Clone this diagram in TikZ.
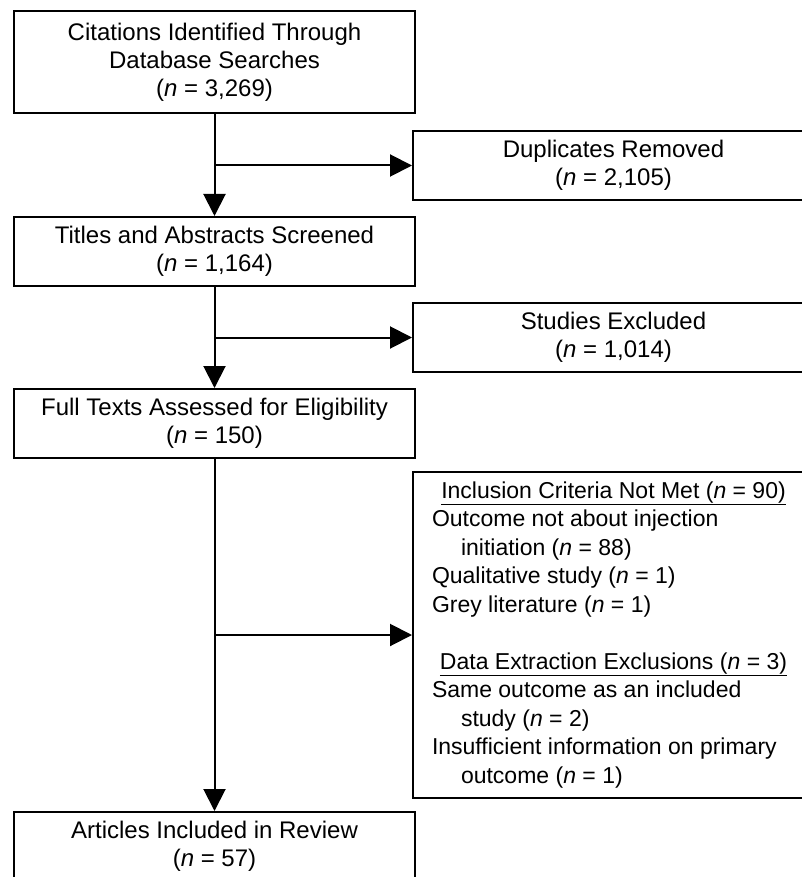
\documentclass[tikz,border=0pt]{standalone}
\usepackage{fontspec}
\setmainfont{Liberation Sans}
\usetikzlibrary{arrows.meta}
\begin{document}
\begin{tikzpicture}[x=1pt,y=-1pt,
  box/.style={draw=black, line width=2pt, minimum width=401pt, inner sep=0pt,
    align=center, font=\fontsize{24}{28}\selectfont},
  flow/.style={draw=black, line width=2pt, -{Triangle[length=22pt,width=22pt]}},
  plain/.style={draw=black, line width=2pt}]
\useasboundingbox (0,0) rectangle (802,877);
\clip (0,0) rectangle (802,877);
\fill[white] (0,0) rectangle (802,877);

\node[box, minimum height=102pt] (cit) at (214.5,62)
  {Citations Identified Through\\Database Searches\\(\textit{n} = 3,269)};
\node[box, minimum height=69pt] (dup) at (613.5,165.5)
  {Duplicates Removed\\(\textit{n} = 2,105)};
\node[box, minimum height=69pt] (tit) at (214.5,251.5)
  {Titles and Abstracts Screened\\(\textit{n} = 1,164)};
\node[box, minimum height=69pt] (exc) at (613.5,337.5)
  {Studies Excluded\\(\textit{n} = 1,014)};
\node[box, minimum height=69pt] (full) at (214.5,423.5)
  {Full Texts Assessed for Eligibility\\(\textit{n} = 150)};
\node[box, minimum height=326pt, align=left,
  font=\fontsize{23}{28.5}\selectfont] (crit) at (613.5,635)
  {\makebox[363pt]{\underline{Inclusion Criteria Not Met (\textit{n} = 90)}}\\
   Outcome not about injection\\
   \hspace*{29pt}initiation (\textit{n} = 88)\\
   Qualitative study (\textit{n} = 1)\\
   Grey literature (\textit{n} = 1)\\[28.5pt]
   \makebox[363pt]{\underline{Data Extraction Exclusions (\textit{n} = 3)}}\\
   Same outcome as an included\\
   \hspace*{29pt}study (\textit{n} = 2)\\
   Insufficient information on primary\\
   \hspace*{29pt}outcome (\textit{n} = 1)};
\node[box, minimum height=69pt] (art) at (214.5,846.5)
  {Articles Included in Review\\(\textit{n} = 57)};

\draw[flow] (cit.south) -- (tit.north);
\draw[flow] (cit.south |- dup.west) -- (dup.west);
\draw[flow] (tit.south) -- (full.north);
\draw[flow] (tit.south |- exc.west) -- (exc.west);
\draw[flow] (full.south) -- (art.north);
\draw[flow] (full.south |- crit.west) -- (crit.west);
\end{tikzpicture}
\end{document}
